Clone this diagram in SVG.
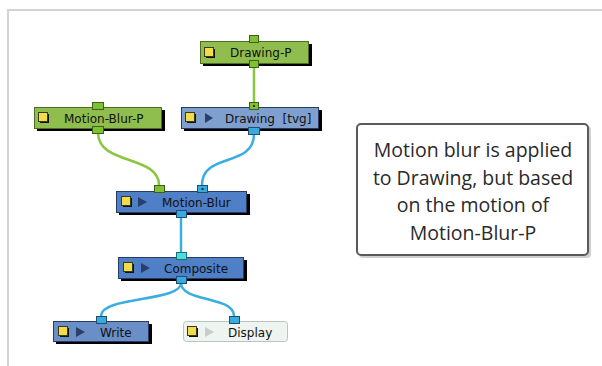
<svg xmlns="http://www.w3.org/2000/svg" width="602" height="366" viewBox="0 0 602 366">
<defs>
<style>
.frame{fill:none;stroke:#d3d3d3;stroke-width:2}
.shadow{fill:#000}
.green{fill:#8fbd4e;stroke:#4f6b24;stroke-width:1}
.blue{fill:#4f7fc6;stroke:#263c63;stroke-width:1}
.lblue{fill:#7f9fcf;stroke:#263c63;stroke-width:1}
.wblue{fill:#6a8ec6;stroke:#263c63;stroke-width:1}
.disp{fill:#eef4f0;stroke:#b8c4c0;stroke-width:1}
.ysq{fill:#f3dc4a;stroke:#3a3a1a;stroke-width:1}
.ysh{fill:#111}
.tri{fill:#2b3f6b}
.tril{fill:#c8cccc}
.lbl{font-family:"DejaVu Sans",sans-serif;font-size:12px;fill:#111}
.pg{fill:#7cc232;stroke:#3f5e18;stroke-width:1}
.pb{fill:#3aa9de;stroke:#1c4f72;stroke-width:1}
.pc{fill:#48e0dc;stroke:#1c6f72;stroke-width:1}
.cg{fill:none;stroke:#8cc63f;stroke-width:2.5}
.cb{fill:none;stroke:#3aaee0;stroke-width:2.5}
.note{font-family:"Open Sans",sans-serif;font-size:19.5px;fill:#2a2a2a;text-anchor:middle}
</style>
</defs>
<rect width="602" height="366" fill="#fff"/>
<path class="frame" d="M8,366 V10 H602"/>

<g id="connectors">
<path class="cg" d="M254,67 V102"/>
<path class="cg" d="M98,133 C98,165 159,155 159,185"/>
<path class="cb" d="M254,134 C254,168 202,152 202,185"/>
<path class="cb" d="M181,217 V252"/>
<path class="cb" d="M181,283 C181,302 101,296 101,316"/>
<path class="cb" d="M181,283 C181,302 234,296 234,316"/>
</g>

<g id="drawing-p">
<rect class="shadow" x="203" y="44" width="109" height="22"/>
<rect class="green" x="200.5" y="41.5" width="108" height="22"/>
<rect class="ysh" x="206" y="49" width="9" height="9"/>
<rect class="ysq" x="204.5" y="47.5" width="9" height="9"/>
<text class="lbl" x="230" y="57">Drawing-P</text>
<rect class="pg" x="249.5" y="35.5" width="9" height="7"/>
<rect class="pg" x="249.5" y="60.5" width="9" height="7"/>
</g>

<g id="motion-blur-p">
<rect class="shadow" x="37" y="110" width="128" height="21"/>
<rect class="green" x="34.5" y="107.5" width="127" height="21"/>
<rect class="ysh" x="40" y="114" width="9" height="9"/>
<rect class="ysq" x="38.5" y="112.5" width="9" height="9"/>
<text class="lbl" x="64" y="123">Motion-Blur-P</text>
<rect class="pg" x="92.5" y="102.5" width="11" height="7"/>
<rect class="pg" x="92.5" y="126.5" width="11" height="7"/>
</g>

<g id="drawing-tvg">
<rect class="shadow" x="184" y="110" width="138" height="21"/>
<rect class="lblue" x="181.5" y="107.5" width="137" height="21"/>
<rect class="ysh" x="187" y="114" width="9" height="9"/>
<rect class="ysq" x="185.5" y="112.5" width="9" height="9"/>
<path class="tri" d="M205,113 L213,118 L205,123 Z"/>
<text class="lbl" x="225" y="123" xml:space="preserve">Drawing  [tvg]</text>
<rect class="pg" x="249.5" y="102.5" width="9" height="7"/>
<rect x="253" y="105" width="2" height="2" fill="#2a3a10"/>
<rect class="pb" x="248.5" y="127.5" width="11" height="7"/>
</g>

<g id="motion-blur">
<rect class="shadow" x="119" y="194" width="131" height="21"/>
<rect class="blue" x="116.5" y="191.5" width="130" height="21"/>
<rect class="ysh" x="123" y="198" width="9" height="9"/>
<rect class="ysq" x="121.5" y="196.5" width="9" height="9"/>
<path class="tri" d="M138,197 L147,202 L138,207 Z"/>
<text class="lbl" x="162" y="207">Motion-Blur</text>
<rect class="pg" x="154.5" y="185.5" width="10" height="7"/>
<rect class="pb" x="197.5" y="185.5" width="10" height="7"/>
<rect x="201.5" y="188" width="2" height="2" fill="#12304a"/>
<rect class="pb" x="176.5" y="210.5" width="10" height="7"/>
</g>

<g id="composite">
<rect class="shadow" x="121" y="260" width="126" height="21"/>
<rect class="blue" x="118.5" y="257.5" width="125" height="21"/>
<rect class="ysh" x="125" y="264" width="9" height="9"/>
<rect class="ysq" x="123.5" y="262.5" width="9" height="9"/>
<path class="tri" d="M141,263 L150,268 L141,273 Z"/>
<text class="lbl" x="164" y="273">Composite</text>
<rect class="pc" x="176.5" y="252.5" width="10" height="7"/>
<rect class="pb" x="176.5" y="276.5" width="10" height="7"/>
</g>

<g id="write">
<rect class="shadow" x="56" y="324" width="96" height="20"/>
<rect class="wblue" x="53.5" y="321.5" width="95" height="20"/>
<rect class="ysh" x="60" y="328" width="9" height="9"/>
<rect class="ysq" x="58.5" y="326.5" width="9" height="9"/>
<path class="tri" d="M76,327 L85,332 L76,337 Z"/>
<text class="lbl" x="100" y="337">Write</text>
<rect class="pb" x="96.5" y="316.5" width="10" height="7"/>
</g>

<g id="display">
<rect class="disp" x="183.5" y="321.5" width="104" height="20" rx="3"/>
<rect class="ysh" x="189" y="328" width="9" height="9"/>
<rect class="ysq" x="187.5" y="326.5" width="9" height="9"/>
<path class="tril" d="M205,327 L214,332 L205,337 Z"/>
<text class="lbl" x="228" y="337">Display</text>
<rect class="pb" x="229.5" y="316.5" width="10" height="7"/>
</g>

<g id="note">
<rect x="359" y="126" width="232" height="132" rx="4" fill="#cfcfcf"/>
<rect x="357" y="124" width="231" height="131" rx="4" fill="#fff" stroke="#5a5a5a" stroke-width="2"/>
<text class="note" x="473" y="157">Motion blur is applied</text>
<text class="note" x="473" y="184.5">to Drawing, but based</text>
<text class="note" x="473" y="212">on the motion of</text>
<text class="note" x="473" y="240">Motion-Blur-P</text>
</g>
</svg>
